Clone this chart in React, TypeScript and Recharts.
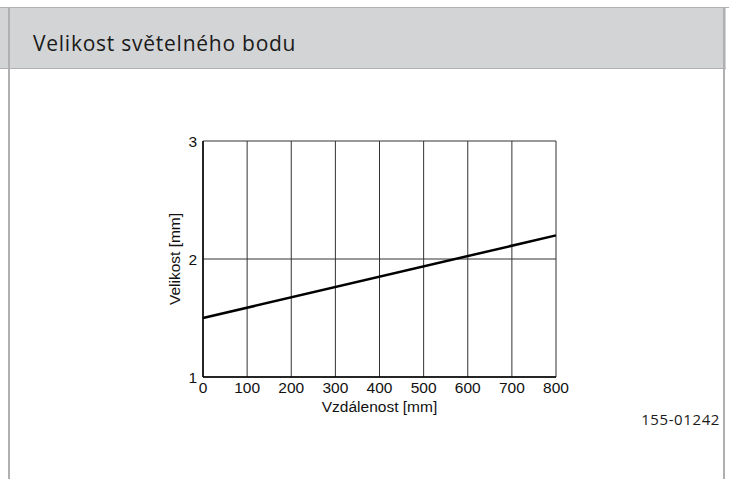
import React from 'react';
import {
  LineChart,
  Line,
  XAxis,
  YAxis,
  CartesianGrid,
} from 'recharts';

// distance [mm] -> spot size [mm]
const distances = [0, 800];
const spotSizes = [1.5, 2.2];

const xTicks = [0, 100, 200, 300, 400, 500, 600, 700, 800];
const yTicks = [1, 2, 3];

const data = distances.map((d, i) => ({ distance: d, size: spotSizes[i] }));

const axisFont = {
  fontFamily: '"Liberation Sans", Arial, sans-serif',
  fontSize: 15.5,
  fill: '#111',
};

function YLabel({ viewBox }: any) {
  const x = viewBox.x + viewBox.width / 2 - 14;
  const y = viewBox.y + viewBox.height / 2;
  return (
    <text
      x={x}
      y={y}
      transform={`rotate(-90, ${x}, ${y})`}
      textAnchor="middle"
      dominantBaseline="central"
      style={axisFont}
    >
      Velikost [mm]
    </text>
  );
}

function XLabel({ viewBox }: any) {
  const x = viewBox.x + viewBox.width / 2;
  const y = viewBox.y + 29;
  return (
    <text
      x={x}
      y={y}
      textAnchor="middle"
      dominantBaseline="central"
      style={axisFont}
    >
      Vzdálenost [mm]
    </text>
  );
}

export default function App() {
  const line = '#b0b0b2';
  return (
    <div
      style={{
        position: 'absolute',
        left: 0,
        top: 0,
        width: 729,
        height: 479,
        background: '#fff',
        overflow: 'hidden',
      }}
    >
      {/* header band */}
      <div style={{ position: 'absolute', left: 0, top: 7, width: 729, height: 1, background: line }} />
      <div
        style={{
          position: 'absolute',
          left: 0,
          top: 8,
          width: 726,
          height: 60,
          background: '#d3d4d6',
        }}
      />
      <div style={{ position: 'absolute', left: 0, top: 68, width: 726, height: 1, background: line }} />
      <div style={{ position: 'absolute', left: 8, top: 7, width: 2, height: 472, background: line }} />
      <div style={{ position: 'absolute', left: 723, top: 8, width: 2, height: 471, background: line }} />
      <div
        style={{
          position: 'absolute',
          left: 33,
          top: 29,
          fontFamily: '"Open Sans", sans-serif',
          fontSize: 21,
          letterSpacing: 0.75,
          color: '#1a1a1a',
          whiteSpace: 'nowrap',
        }}
      >
        Velikost světelného bodu
      </div>

      <div style={{ position: 'absolute', left: 0, top: 0 }}>
        <LineChart
          width={729}
          height={479}
          data={data}
          margin={{ top: 141, right: 173, bottom: 72, left: 173 }}
        >
          <CartesianGrid stroke="#333" strokeWidth={1} horizontalValues={yTicks} verticalValues={xTicks} />
          <XAxis
            dataKey="distance"
            type="number"
            domain={[0, 800]}
            ticks={xTicks}
            tickLine={false}
            tickSize={3}
            tickMargin={2}
            axisLine={{ stroke: '#000', strokeWidth: 1.5 }}
            tick={axisFont}
            height={30}
            label={<XLabel />}
          />
          <YAxis
            type="number"
            domain={[1, 3]}
            ticks={yTicks}
            tickLine={false}
            tickSize={4}
            tickMargin={2}
            axisLine={{ stroke: '#000', strokeWidth: 1.5 }}
            tick={axisFont}
            width={30}
            label={<YLabel />}
          />
          <Line
            dataKey="size"
            stroke="#000"
            strokeWidth={2.5}
            dot={false}
            isAnimationActive={false}
          />
        </LineChart>
      </div>

      <div
        style={{
          position: 'absolute',
          right: 9,
          top: 409,
          fontFamily: '"Open Sans", sans-serif',
          fontSize: 15,
          letterSpacing: 0.6,
          color: '#1a1a1a',
        }}
      >
        155-01242
      </div>
    </div>
  );
}
